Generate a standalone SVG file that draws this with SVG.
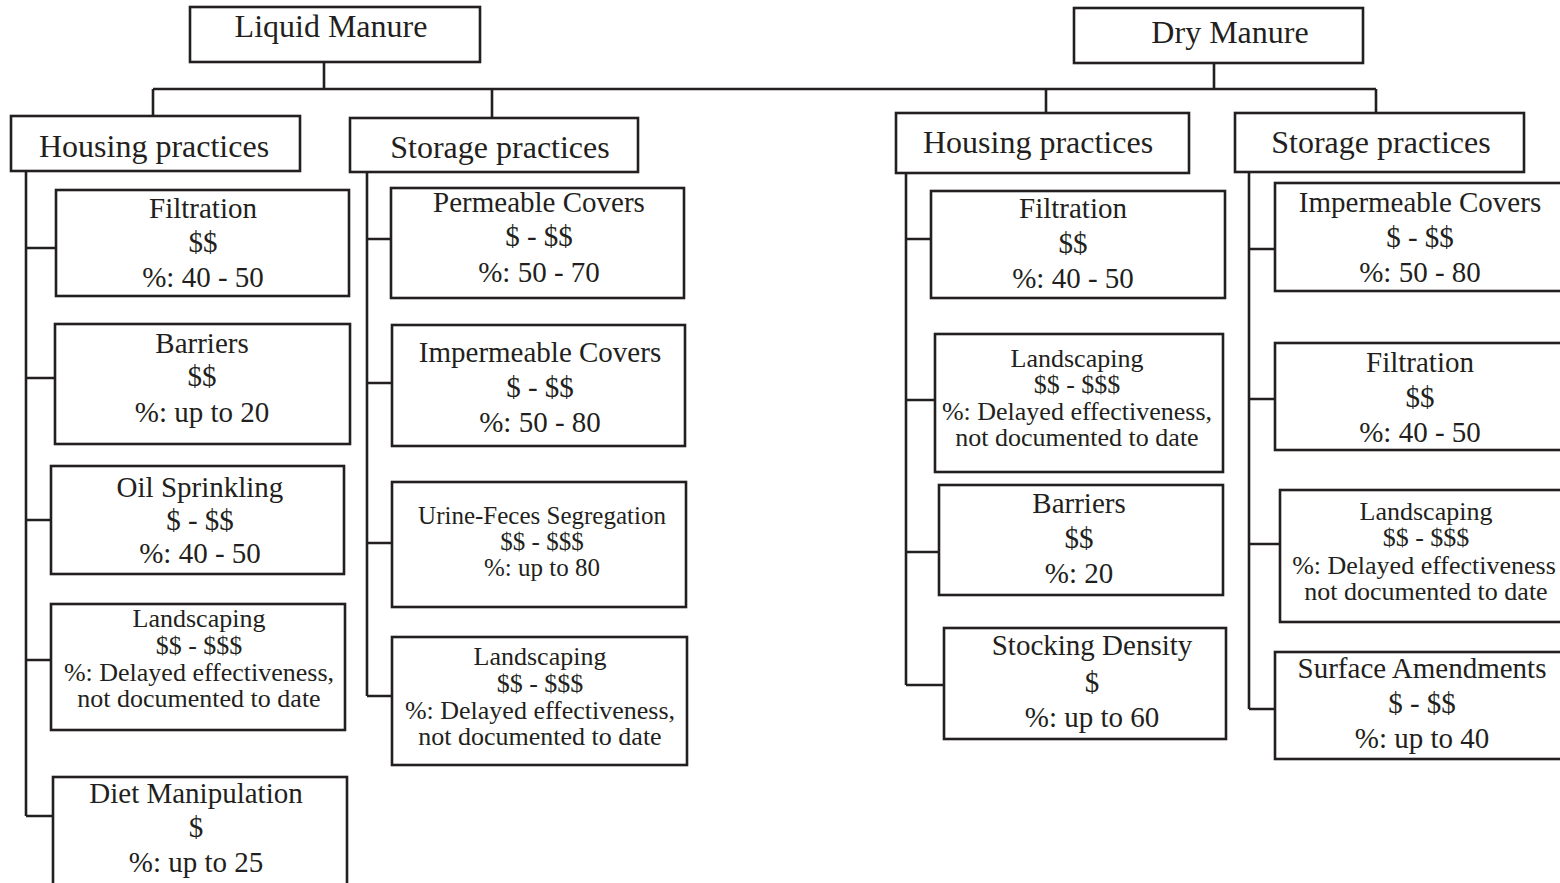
<svg xmlns="http://www.w3.org/2000/svg" width="1560" height="883" viewBox="0 0 1560 883">
<style>
rect{fill:#fff;stroke:#231f20;stroke-width:2.6}
.c path{fill:none;stroke:#231f20;stroke-width:2.6}
text{font-family:"Liberation Serif","Times New Roman",serif;fill:#231f20;text-anchor:middle}
.h{font-size:32px}
.i{font-size:29px}
.s{font-size:26px}
.u{font-size:25px}
</style>
<rect x="0" y="0" width="1560" height="883" style="stroke:none;fill:#fff"/>
<g class="c" id="connectors">
<path d="M324,62V89M153,89H1376M153,89V116M492,89V118"/>
<path d="M1214,63V89M1046,89V113M1376,89V113"/>
<path d="M26,171V816M26,248H56M26,378H55M26,520H51M26,660H51M26,816H53"/>
<path d="M367,172V696M367,239H391M367,383H392M367,543H392M367,696H392"/>
<path d="M906,173V685M906,239H931M906,400H935M906,552H939M906,685H944"/>
<path d="M1249,173V709M1249,249H1275M1249,399H1275M1249,544H1280M1249,709H1275"/>
</g>
<g id="liquid-manure"><rect x="190" y="7" width="290" height="55"/><text class="h" x="331" y="37">Liquid Manure</text></g>
<g id="liquid-housing"><rect x="11" y="116" width="289" height="55"/><text class="h" x="154" y="157">Housing practices</text></g>
<g id="liquid-storage"><rect x="350" y="118" width="288" height="54"/><text class="h" x="500" y="158">Storage practices</text></g>
<g id="l-filtration"><rect x="56" y="190" width="293" height="106"/><text class="i" x="203" y="218">Filtration</text><text class="i" x="203" y="252">$$</text><text class="i" x="203" y="287">%: 40 - 50</text></g>
<g id="l-barriers"><rect x="55" y="324" width="295" height="120"/><text class="i" x="202" y="353">Barriers</text><text class="i" x="202" y="386">$$</text><text class="i" x="202" y="422">%: up to 20</text></g>
<g id="l-oil"><rect x="51" y="466" width="293" height="108"/><text class="i" x="200" y="497">Oil Sprinkling</text><text class="i" x="200" y="530">$ - $$</text><text class="i" x="200" y="563">%: 40 - 50</text></g>
<g id="l-landscaping"><rect x="51" y="604" width="294" height="126"/><text class="s" x="199" y="627">Landscaping</text><text class="s" x="199" y="654">$$ - $$$</text><text class="s" x="199" y="681">%: Delayed effectiveness,</text><text class="s" x="199" y="707">not documented to date</text></g>
<g id="l-diet"><rect x="53" y="777" width="294" height="120"/><text class="i" x="196" y="803">Diet Manipulation</text><text class="i" x="196" y="837">$</text><text class="i" x="196" y="872">%: up to 25</text></g>
<g id="l-permeable"><rect x="391" y="188" width="293" height="110"/><text class="i" x="539" y="212">Permeable Covers</text><text class="i" x="539" y="246">$ - $$</text><text class="i" x="539" y="282">%: 50 - 70</text></g>
<g id="l-impermeable"><rect x="392" y="325" width="293" height="121"/><text class="i" x="540" y="362">Impermeable Covers</text><text class="i" x="540" y="397">$ - $$</text><text class="i" x="540" y="432">%: 50 - 80</text></g>
<g id="l-urine"><rect x="392" y="482" width="294" height="125"/><text class="u" x="542" y="524">Urine-Feces Segregation</text><text class="u" x="542" y="550">$$ - $$$</text><text class="u" x="542" y="576">%: up to 80</text></g>
<g id="l-landscaping2"><rect x="392" y="637" width="295" height="128"/><text class="s" x="540" y="665">Landscaping</text><text class="s" x="540" y="692">$$ - $$$</text><text class="s" x="540" y="719">%: Delayed effectiveness,</text><text class="s" x="540" y="745">not documented to date</text></g>
<g id="dry-manure"><rect x="1074" y="8" width="289" height="55"/><text class="h" x="1230" y="43">Dry Manure</text></g>
<g id="dry-housing"><rect x="896" y="113" width="293" height="60"/><text class="h" x="1038" y="153">Housing practices</text></g>
<g id="dry-storage"><rect x="1235" y="113" width="289" height="59"/><text class="h" x="1381" y="153">Storage practices</text></g>
<g id="d-filtration"><rect x="931" y="191" width="294" height="107"/><text class="i" x="1073" y="218">Filtration</text><text class="i" x="1073" y="253">$$</text><text class="i" x="1073" y="288">%: 40 - 50</text></g>
<g id="d-landscaping"><rect x="935" y="334" width="288" height="138"/><text class="s" x="1077" y="367">Landscaping</text><text class="s" x="1077" y="393">$$ - $$$</text><text class="s" x="1077" y="420">%: Delayed effectiveness,</text><text class="s" x="1077" y="446">not documented to date</text></g>
<g id="d-barriers"><rect x="939" y="485" width="284" height="110"/><text class="i" x="1079" y="513">Barriers</text><text class="i" x="1079" y="548">$$</text><text class="i" x="1079" y="583">%: 20</text></g>
<g id="d-stocking"><rect x="944" y="628" width="282" height="111"/><text class="i" x="1092" y="655">Stocking Density</text><text class="i" x="1092" y="692">$</text><text class="i" x="1092" y="727">%: up to 60</text></g>
<g id="d-impermeable"><rect x="1275" y="183" width="300" height="108"/><text class="i" x="1420" y="212">Impermeable Covers</text><text class="i" x="1420" y="247">$ - $$</text><text class="i" x="1420" y="282">%: 50 - 80</text></g>
<g id="d-filtration2"><rect x="1275" y="343" width="300" height="107"/><text class="i" x="1420" y="372">Filtration</text><text class="i" x="1420" y="407">$$</text><text class="i" x="1420" y="442">%: 40 - 50</text></g>
<g id="d-landscaping2"><rect x="1280" y="490" width="300" height="132"/><text class="s" x="1426" y="520">Landscaping</text><text class="s" x="1426" y="546">$$ - $$$</text><text class="s" x="1424" y="574">%: Delayed effectiveness</text><text class="s" x="1426" y="600">not documented to date</text></g>
<g id="d-surface"><rect x="1275" y="652" width="300" height="107"/><text class="i" x="1422" y="678">Surface Amendments</text><text class="i" x="1422" y="713">$ - $$</text><text class="i" x="1422" y="748">%: up to 40</text></g>
</svg>
